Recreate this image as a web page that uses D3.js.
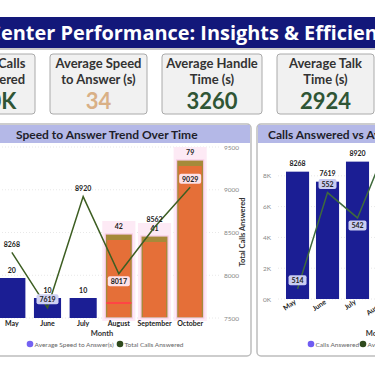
<!DOCTYPE html>
<html>
<head>
<meta charset="utf-8">
<script src="https://cdn.jsdelivr.net/npm/d3@7"></script>
<style>
  html, body { margin: 0; padding: 0; background: #fff; overflow: hidden; }
  svg { display: block; font-family: Lato, "Open Sans", sans-serif; }
</style>
</head>
<body>
<div class="container"></div>
<script>
/* Data */
const months = ['May', 'June', 'July', 'August', 'September', 'October'];
const avgSpeed = [20, 10, 10, 42, 41, 79];
const callsAnswered = [8268, 7619, 8920, 8017, 8562, 9029];
// second panel line (only May-Aug visible)
const avgSecond = [514, 552, 542, 571, 530, 548];
const callTicks = [7500, 8000, 8500, 9000, 9500];
const countTicks = [0, 2000, 4000, 6000, 8000];
const cardTitles = [['Total Calls', 'Answered'], ['Average Speed', 'to Answer (s)'], ['Average Handle', 'Time (s)'], ['Average Talk', 'Time (s)']];
const cardValues = ['50K', '34', '3260', '2924'];
const redMarks = [{ month: 'August', value: 7.5 }];

/* Colors */
const navy = '#1b1e94';
const orange = '#e56f38';
const olive = '#a58a3a';
const lineGreen = '#3d5e22';
const lavender = '#b4b8e7';

const width = 375, height = 375;
const svg = d3.select('.container').append('svg')
    .attr('width', width).attr('height', height);

/* Header */
svg.append('rect').attr('x', 0).attr('y', 17).attr('width', width).attr('height', 31).attr('fill', '#13187a');
svg.append('rect').attr('x', 0).attr('y', 48).attr('width', width).attr('height', 2).attr('fill', '#c9c9c9');
const title = svg.append('text')
    .attr('y', 40).attr('fill', '#fff').attr('font-weight', 700).attr('font-size', 20)
    .attr('font-family', '"Open Sans", sans-serif')
    .text('Call Center Performance: Insights & Efficiency');
// fit so that "enter ... Efficien" spans the window
{
    const node = title.node();
    const s = node.getStartPositionOfChar(6).x;
    const e = node.getEndPositionOfChar(43).x;
    const fs = 20 * 377 / (e - s);
    title.attr('font-size', fs);
    const s2 = node.getStartPositionOfChar(6).x;
    title.attr('x', -s2 + 1);
}

/* Cards */
const cardBoxes = [{ x: -43, w: 78 }, { x: 50, w: 97 }, { x: 162, w: 100 }, { x: 277, w: 97 }];
const cards = svg.selectAll('.card').data(cardTitles).enter().append('g')
    .attr('class', 'card')
    .attr('transform', (d, i) => `translate(${cardBoxes[i].x}, 54)`);
cards.append('rect').attr('width', (d, i) => cardBoxes[i].w).attr('height', 60).attr('rx', 3)
    .attr('fill', '#f1f1f1').attr('stroke', '#aaa').attr('stroke-width', 1);
cards.each(function (d, i) {
    const g = d3.select(this);
    const cx = cardBoxes[i].w / 2;
    g.selectAll('.ct').data(d).enter().append('text')
        .attr('x', cx).attr('y', (t, j) => 14 + j * 15.5)
        .attr('text-anchor', 'middle').attr('font-size', 13).attr('font-weight', 700).attr('fill', '#333')
        .text(t => t);
    g.append('text').attr('x', cx).attr('y', 55)
        .attr('text-anchor', 'middle').attr('font-size', 22).attr('font-weight', 700)
        .attr('fill', i === 1 ? '#d9b086' : '#2f5535')
        .text(cardValues[i]);
});

/* Panels */
function panel(x0, x1, label, tx) {
    svg.append('rect').attr('x', x0).attr('y', 124).attr('width', x1 - x0).attr('height', 232).attr('rx', 4)
        .attr('fill', '#fff').attr('stroke', '#bdbdbd').attr('stroke-width', 1.5);
    svg.append('rect').attr('x', x0 + 1).attr('y', 125).attr('width', x1 - x0 - 2).attr('height', 18).attr('fill', lavender);
    svg.append('text').attr('x', tx).attr('y', 138.5).attr('font-size', 12).attr('font-weight', 700).attr('fill', '#1e1e2a').text(label);
}
panel(-10, 251, 'Speed to Answer Trend Over Time', 16);
panel(257, 400, 'Calls Answered vs Average Speed to Answer', 268);

/* Left chart */
const rows = months.map((m, i) => ({ month: m, speed: avgSpeed[i], calls: callsAnswered[i], second: avgSecond[i] }));
const x = d3.scaleBand().domain(months).range([-6, 208]).paddingInner(0.24).paddingOuter(0.12);
const yBar = d3.scaleLinear().domain([0, 85.5]).range([318, 147]);
const yCalls = d3.scaleLinear().domain([7500, 9500]).range([318, 147]);
const isHigh = d => d.speed > 30;

const left = svg.append('g');
left.selectAll('.grid').data(callTicks).enter().append('line')
    .attr('x1', -10).attr('x2', 220).attr('y1', d => yCalls(d)).attr('y2', d => yCalls(d))
    .attr('stroke', '#e8e8e8').attr('stroke-dasharray', '1,2');

// pink glow behind highlighted bars
left.selectAll('.glow').data(rows.filter(isHigh)).enter().append('rect')
    .attr('x', d => x(d.month) - 3).attr('width', x.bandwidth() + 6)
    .attr('y', d => yBar(d.speed) - 13).attr('height', d => 318 - yBar(d.speed) + 16)
    .attr('fill', '#fdeaf5');

left.selectAll('.bar').data(rows).enter().append('rect')
    .attr('x', d => x(d.month)).attr('width', x.bandwidth())
    .attr('y', d => yBar(d.speed)).attr('height', d => yBar(0) - yBar(d.speed))
    .attr('fill', d => isHigh(d) ? olive : navy)
    .attr('stroke', d => isHigh(d) ? '#f7cbe5' : 'none').attr('stroke-width', 1.2);
left.selectAll('.inner').data(rows.filter(isHigh)).enter().append('rect')
    .attr('x', d => x(d.month) + 2).attr('width', x.bandwidth() - 4)
    .attr('y', d => yBar(d.speed) + 6).attr('height', d => yBar(0) - yBar(d.speed) - 7)
    .attr('fill', orange);
left.selectAll('.red').data(redMarks).enter().append('line')
    .attr('x1', d => x(d.month) + 1).attr('x2', d => x(d.month) + x.bandwidth() - 1)
    .attr('y1', d => yBar(d.value)).attr('y2', d => yBar(d.value))
    .attr('stroke', '#ff4545').attr('stroke-width', 2);

left.selectAll('.blab').data(rows).enter().append('text')
    .attr('x', d => x(d.month) + x.bandwidth() / 2).attr('y', d => yBar(d.speed) - 5)
    .attr('text-anchor', 'middle').attr('font-size', 7).attr('font-weight', 700).attr('fill', '#222')
    .text(d => d.speed);

const line = d3.line().x(d => x(d.month) + x.bandwidth() / 2).y(d => yCalls(d.calls));
left.append('path').datum(rows).attr('d', line)
    .attr('fill', 'none').attr('stroke', lineGreen).attr('stroke-width', 1.5);

function lineLabel(g, cx, cy, txt, barTop, boxColor) {
    const tw = txt.length * 4 + 6;
    if (cy > barTop - 4) {
        g.append('rect').attr('x', cx - tw / 2).attr('y', cy - 5.5).attr('width', tw).attr('height', 10).attr('rx', 2)
            .attr('fill', boxColor);
    }
    g.append('text').attr('x', cx).attr('y', cy + 2.5).attr('text-anchor', 'middle')
        .attr('font-size', 7).attr('font-weight', 700).attr('fill', '#222').text(txt);
}
rows.forEach(d => {
    const cx = x(d.month) + x.bandwidth() / 2;
    const cy = yCalls(d.calls) + (d.month === 'August' ? 8 : -8);
    lineLabel(left, cx, cy, String(d.calls), yBar(d.speed), isHigh(d) ? '#fde1e7' : '#cfd1f2');
});

left.selectAll('.rtick').data(callTicks).enter().append('text')
    .attr('x', 224).attr('y', d => yCalls(d) + 2.5)
    .attr('font-size', 6.5).attr('fill', '#888').text(d => d);
left.append('text').attr('transform', 'translate(245,232) rotate(-90)')
    .attr('text-anchor', 'middle').attr('font-size', 7.5).attr('font-weight', 700).attr('fill', '#333')
    .text('Total Calls Answered');
left.selectAll('.xl').data(months).enter().append('text')
    .attr('x', d => x(d) + x.bandwidth() / 2).attr('y', 326)
    .attr('text-anchor', 'middle').attr('font-size', 7).attr('font-weight', 700).attr('fill', '#222').text(d => d);
left.append('text').attr('x', 102).attr('y', 336).attr('text-anchor', 'middle')
    .attr('font-size', 7.5).attr('font-weight', 700).attr('fill', '#333').text('Month');

function legend(g, items, y) {
    items.forEach(it => {
        g.append('circle').attr('cx', it.x).attr('cy', y).attr('r', 3.3).attr('fill', it.color);
        g.append('text').attr('x', it.x + 4.5).attr('y', y + 2.5).attr('font-size', 6.5).attr('fill', '#666').text(it.label);
    });
}
legend(left, [
    { x: 30, color: '#7462f2', label: 'Average Speed to Answer(s)' },
    { x: 120, color: '#2f4a1c', label: 'Total Calls Answered' }
], 344);

/* Right chart */
const right = svg.append('g');
const x2 = d3.scaleBand().domain(months).range([280, 465]).paddingInner(0.23).paddingOuter(0.2);
const yCount = d3.scaleLinear().domain([0, 10000]).range([299, 145]);
const ySecond = d3.scaleLinear().domain([510, 570]).range([299, 147]);

right.selectAll('.grid').data(countTicks).enter().append('line')
    .attr('x1', 278).attr('x2', 400).attr('y1', d => yCount(d)).attr('y2', d => yCount(d))
    .attr('stroke', '#e8e8e8').attr('stroke-dasharray', '1,2');
right.selectAll('.ytick').data(countTicks).enter().append('text')
    .attr('x', 263).attr('y', d => yCount(d) + 2.5)
    .attr('font-size', 6.5).attr('fill', '#888').text(d => d / 1000 + 'K');

right.selectAll('.bar').data(rows).enter().append('rect')
    .attr('x', d => x2(d.month)).attr('width', x2.bandwidth())
    .attr('y', d => yCount(d.calls)).attr('height', d => yCount(0) - yCount(d.calls))
    .attr('fill', navy);
right.selectAll('.blab').data(rows).enter().append('text')
    .attr('x', d => x2(d.month) + x2.bandwidth() / 2).attr('y', d => yCount(d.calls) - 6)
    .attr('text-anchor', 'middle').attr('font-size', 7).attr('font-weight', 700).attr('fill', '#222')
    .text(d => d.calls);

const line2 = d3.line().x(d => x2(d.month) + x2.bandwidth() / 2).y(d => ySecond(d.second));
right.append('path').datum(rows).attr('d', line2)
    .attr('fill', 'none').attr('stroke', '#3f6a3c').attr('stroke-width', 1.5);
rows.forEach(d => {
    const cx = x2(d.month) + x2.bandwidth() / 2;
    const cy = ySecond(d.second) + (d.month === 'July' ? 8 : -8);
    lineLabel(right, cx, cy, String(d.second), yCount(d.calls), '#c9ccf1');
});

right.selectAll('.xl').data(months).enter().append('text')
    .attr('transform', d => `translate(${x2(d) + x2.bandwidth() / 2 - 1},303) rotate(-35)`)
    .attr('text-anchor', 'end').attr('font-size', 7).attr('font-weight', 700).attr('fill', '#222').text(d => d);
right.append('text').attr('x', 377).attr('y', 336).attr('text-anchor', 'middle')
    .attr('font-size', 7.5).attr('font-weight', 700).attr('fill', '#333').text('Month');
legend(right, [
    { x: 311, color: '#6f5cf2', label: 'Calls Answered' },
    { x: 363, color: '#2f4a1c', label: 'Average Speed to Answer(s)' }
], 344);
</script>
</body>
</html>
